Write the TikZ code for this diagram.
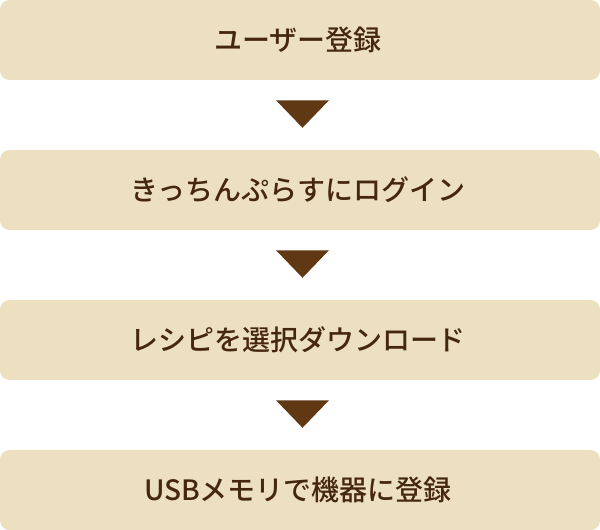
\documentclass[tikz,border=0pt]{standalone}
\usepackage{fontspec}
\newfontfamily\jpfont{Noto Sans CJK JP Medium}
\usetikzlibrary{calc}

\definecolor{boxbeige}{HTML}{EDE0C0}
\definecolor{arrowbrown}{HTML}{603813}
\definecolor{textbrown}{HTML}{45270F}

\begin{document}
\begin{tikzpicture}[x=0.75pt, y=-0.75pt,
  stepbox/.style={fill=boxbeige, rounded corners=7pt, minimum width=450pt,
    minimum height=60pt, inner sep=0pt, text=textbrown,
    font=\jpfont\fontsize{21pt}{24pt}\selectfont}]

\useasboundingbox (0,0) rectangle (600,530);

\node[stepbox] (s1) at (300,40)  {ユーザー登録\kern3pt};
\node[stepbox] (s2) at (300,190) {きっちんぷらすにログイン\kern3pt};
\node[stepbox] (s3) at (300,340) {レシピを選択ダウンロード\kern3pt};
\node[stepbox] (s4) at (300,490) {USBメモリで機器に登録\kern3pt};

% Pfeile zwischen den Schritten
\foreach \a in {s1,s2,s3}
  \fill[arrowbrown] ($(\a.south)+(-24,20)$) -- ($(\a.south)+(29,20)$)
    -- ($(\a.south)+(2.5,47.5)$) -- cycle;

\end{tikzpicture}
\end{document}
